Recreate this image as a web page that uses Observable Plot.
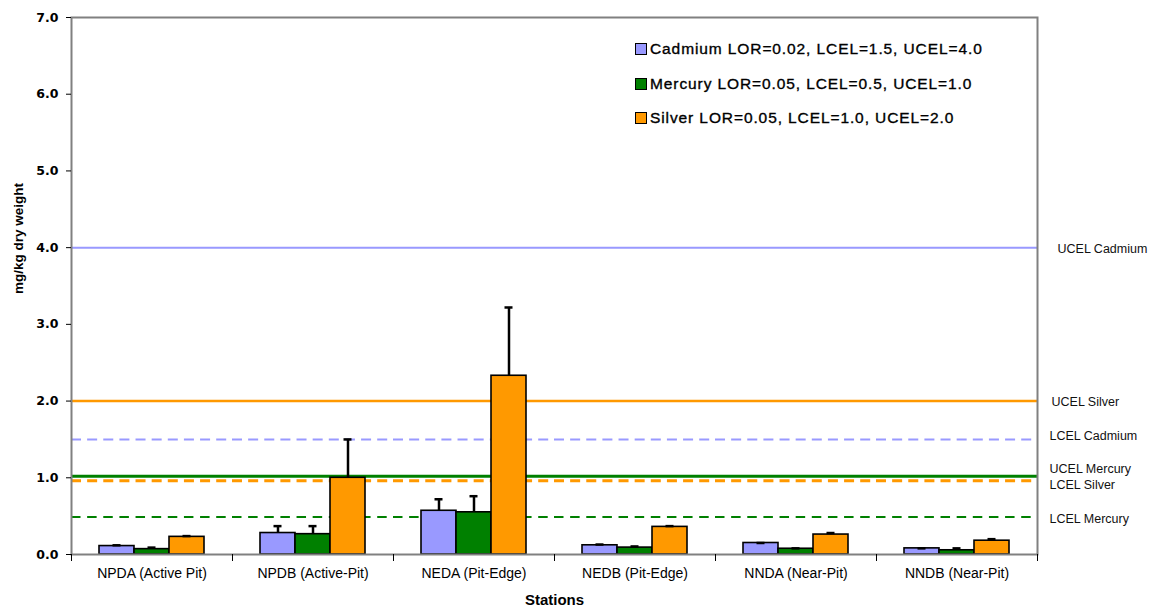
<!DOCTYPE html>
<html>
<head>
<meta charset="utf-8">
<script src="https://cdn.jsdelivr.net/npm/d3@7"></script>
<script src="https://cdn.jsdelivr.net/npm/@observablehq/plot@0.6"></script>
<style>
  body { margin: 0; background: #fff; }
  #wrap { position: relative; width: 1161px; height: 616px; overflow: hidden; }
  #legend { position: absolute; left: 635px; top: 40px; font-family: "Liberation Sans", Arial, sans-serif; font-size: 15.5px; letter-spacing: 0.9px; color: #000; -webkit-text-stroke: 0.35px #000; }
  #legend .row { display: flex; align-items: center; height: 18px; margin-bottom: 16.5px; white-space: nowrap; }
  #legend .sw { width: 10px; height: 10px; border: 1px solid #000; margin-right: 3px; flex: none; }
</style>
</head>
<body>
<div id="wrap"><div id="legend"></div></div>
<script>
// ---- data ----
const stations = ["NPDA (Active Pit)", "NPDB (Active-Pit)", "NEDA (Pit-Edge)", "NEDB (Pit-Edge)", "NNDA (Near-Pit)", "NNDB (Near-Pit)"];
const metals = ["Cadmium", "Mercury", "Silver"];
const cadmium    = [0.11, 0.28, 0.57, 0.12, 0.15, 0.08];
const cadmiumErr = [0.12, 0.37, 0.72, 0.13, 0.15, 0.08];
const mercury    = [0.07, 0.265, 0.55, 0.09, 0.075, 0.055];
const mercuryErr = [0.09, 0.37, 0.76, 0.105, 0.08, 0.08];
const silver     = [0.23, 1.0, 2.33, 0.36, 0.26, 0.18];
const silverErr  = [0.24, 1.5, 3.22, 0.37, 0.28, 0.20];
const legendLabels = ["Cadmium LOR=0.02, LCEL=1.5, UCEL=4.0", "Mercury LOR=0.05, LCEL=0.5, UCEL=1.0", "Silver LOR=0.05, LCEL=1.0, UCEL=2.0"];
const limitNames  = ["UCEL Cadmium", "UCEL Silver", "LCEL Cadmium", "UCEL Mercury", "LCEL Silver", "LCEL Mercury"];
const limitMetals = ["Cadmium", "Silver", "Cadmium", "Mercury", "Silver", "Mercury"];
const limitValues = [4.0, 2.0, 1.5, 1.02, 0.96, 0.49];
const yTicks = [0, 1, 2, 3, 4, 5, 6, 7];
const yLabel = "mg/kg dry weight";
const xLabel = "Stations";

// ---- styles ----
const colors = { Cadmium: "#9999FF", Mercury: "#008000", Silver: "#FF9900" };
// facet width is 968/6 px; dash period 16.133 keeps the pattern continuous across facets
const limitStyle = {
  "UCEL Cadmium": { strokeWidth: 2, dash: null, dx: 20, dy: 1 },
  "UCEL Silver":  { strokeWidth: 2.5, dash: null, dx: 14, dy: 1 },
  "LCEL Cadmium": { strokeWidth: 2, dash: "10,6.1333", dx: 12, dy: -3 },
  "UCEL Mercury": { strokeWidth: 3, dash: null, dx: 12, dy: -7.5 },
  "LCEL Silver":  { strokeWidth: 3, dash: "10,6.1333", dx: 12, dy: 4.5 },
  "LCEL Mercury": { strokeWidth: 2, dash: "9.5,6.6333", dx: 12, dy: 2 }
};

const series = { Cadmium: [cadmium, cadmiumErr], Mercury: [mercury, mercuryErr], Silver: [silver, silverErr] };
const rows = [];
stations.forEach((s, i) => metals.forEach(m => rows.push({ station: s, metal: m, value: series[m][0][i], err: series[m][1][i] })));
const limits = limitNames.map((n, i) => ({ name: n, metal: limitMetals[i], value: limitValues[i] }));
const lastStation = stations[stations.length - 1];

const sans = "'Liberation Sans', Arial, sans-serif";

const plot = Plot.plot({
  width: 1161,
  height: 616,
  marginLeft: 70,
  marginRight: 123,
  marginTop: 17,
  marginBottom: 62,
  style: { fontFamily: sans, background: "#fff", color: "#000", overflow: "visible" },
  fx: { domain: stations, padding: 0, label: null },
  x: { domain: metals, paddingInner: 0, paddingOuter: 0.74, axis: null },
  y: { domain: [0, 7] },
  color: { domain: metals, range: metals.map(m => colors[m]) },
  marks: [
    ...limits.map(l => Plot.ruleY([l], {
      y: "value", stroke: colors[l.metal], strokeWidth: limitStyle[l.name].strokeWidth,
      strokeDasharray: limitStyle[l.name].dash
    })),
    Plot.barY(rows, { fx: "station", x: "metal", y: "value", fill: "metal", stroke: "#000", strokeWidth: 1.6 }),
    Plot.ruleX(rows, { fx: "station", x: "metal", y1: "value", y2: "err", stroke: "#000", strokeWidth: 2.5 }),
    Plot.tickY(rows, { fx: "station", x: "metal", y: "err", stroke: "#000", strokeWidth: 2.5, insetLeft: 13.5, insetRight: 13.5 }),
    Plot.frame({ facet: "super", stroke: "#808080", strokeWidth: 2 }),
    Plot.frame({ anchor: "left", stroke: "#000", strokeWidth: 1, insetTop: 537, insetBottom: -6 }),
    Plot.frame({ anchor: "right", stroke: "#000", strokeWidth: 1, insetTop: 537, insetBottom: -6 }),
    Plot.axisY({ ticks: yTicks, tickFormat: d => d.toFixed(1), tickSize: 5, tickPadding: 8, label: null,
      fontFamily: "'DejaVu Sans', sans-serif", fontWeight: "bold", fontSize: 12.5, stroke: "#000" }),
    Plot.axisFx({ anchor: "bottom", tickSize: 0, tickPadding: 14, label: null, fontSize: 14, fontFamily: sans,
      stroke: "#000", strokeWidth: 0.3 }),
    Plot.text([yLabel], { text: d => d, frameAnchor: "left", rotate: -90, dx: -53, dy: 8, fontWeight: "bold", fontSize: 13.5, fontFamily: sans, facet: "super" }),
    Plot.text([xLabel], { text: d => d, frameAnchor: "bottom", dy: 50, fontWeight: "bold", fontSize: 15, fontFamily: sans, facet: "super" }),
    ...limits.map(l => Plot.text([l], {
      fx: () => lastStation,
      y: "value", text: "name", frameAnchor: "right", textAnchor: "start",
      dx: limitStyle[l.name].dx, dy: limitStyle[l.name].dy, fontSize: 12.5, fill: "#111"
    }))
  ]
});

const wrap = document.getElementById("wrap");
wrap.insertBefore(plot, wrap.firstChild);

const legend = document.getElementById("legend");
metals.forEach((m, i) => {
  const row = document.createElement("div");
  row.className = "row";
  const sw = document.createElement("span");
  sw.className = "sw";
  sw.style.background = colors[m];
  const t = document.createElement("span");
  t.textContent = legendLabels[i];
  row.appendChild(sw);
  row.appendChild(t);
  legend.appendChild(row);
});
</script>
</body>
</html>
